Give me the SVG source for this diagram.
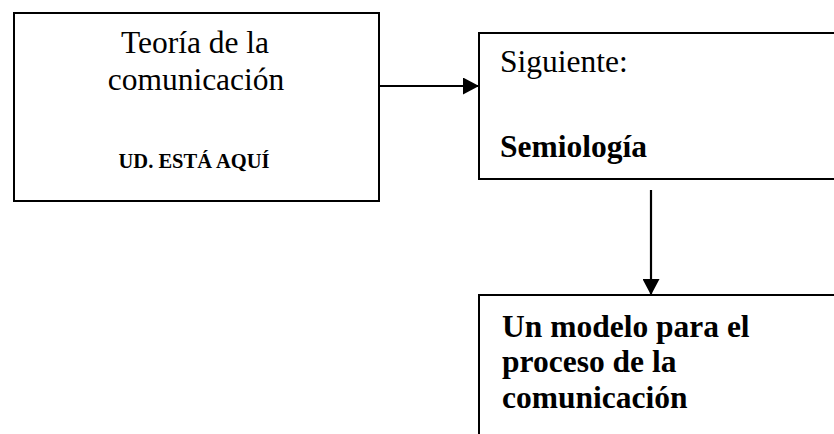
<svg xmlns="http://www.w3.org/2000/svg" width="834" height="434" viewBox="0 0 834 434">
<defs>
<style>
.box{fill:#fff;stroke:#000;stroke-width:2}
.t{font-family:"Liberation Serif","Times New Roman",serif;fill:#000}
.b{font-weight:bold}
.conn{stroke:#000;stroke-width:2.2;fill:none}
</style>
<marker id="ah" markerUnits="userSpaceOnUse" markerWidth="16" markerHeight="17" viewBox="0 0 16 17" refX="16" refY="8.5" orient="auto">
<path d="M0,0 L16,8.5 L0,17 Z" fill="#000"/>
</marker>
</defs>
<rect width="834" height="434" fill="#fff"/>
<g id="connectors">
<line class="conn" x1="379" y1="86" x2="479" y2="86" marker-end="url(#ah)"/>
<line class="conn" x1="651" y1="190" x2="651" y2="295" marker-end="url(#ah)"/>
</g>
<g id="teoria">
<rect class="box" x="14" y="13" width="365" height="188"/>
<text class="t" x="195" y="53" font-size="31.5" text-anchor="middle">Teoría de la</text>
<text class="t" x="196" y="90" font-size="31.5" text-anchor="middle">comunicación</text>
<text class="t b" x="194" y="168" font-size="20.5" text-anchor="middle">UD. ESTÁ AQUÍ</text>
</g>
<g id="semiologia">
<rect class="box" x="479" y="33" width="370" height="146"/>
<text class="t" x="500" y="72" font-size="31.5">Siguiente:</text>
<text class="t b" x="500" y="157" font-size="31.5">Semiología</text>
</g>
<g id="modelo">
<rect class="box" x="479" y="295" width="370" height="160"/>
<text class="t b" x="502" y="337" font-size="31.5">Un modelo para el</text>
<text class="t b" x="502" y="372" font-size="31.5">proceso de la</text>
<text class="t b" x="502" y="408" font-size="31.5">comunicación</text>
</g>
</svg>
